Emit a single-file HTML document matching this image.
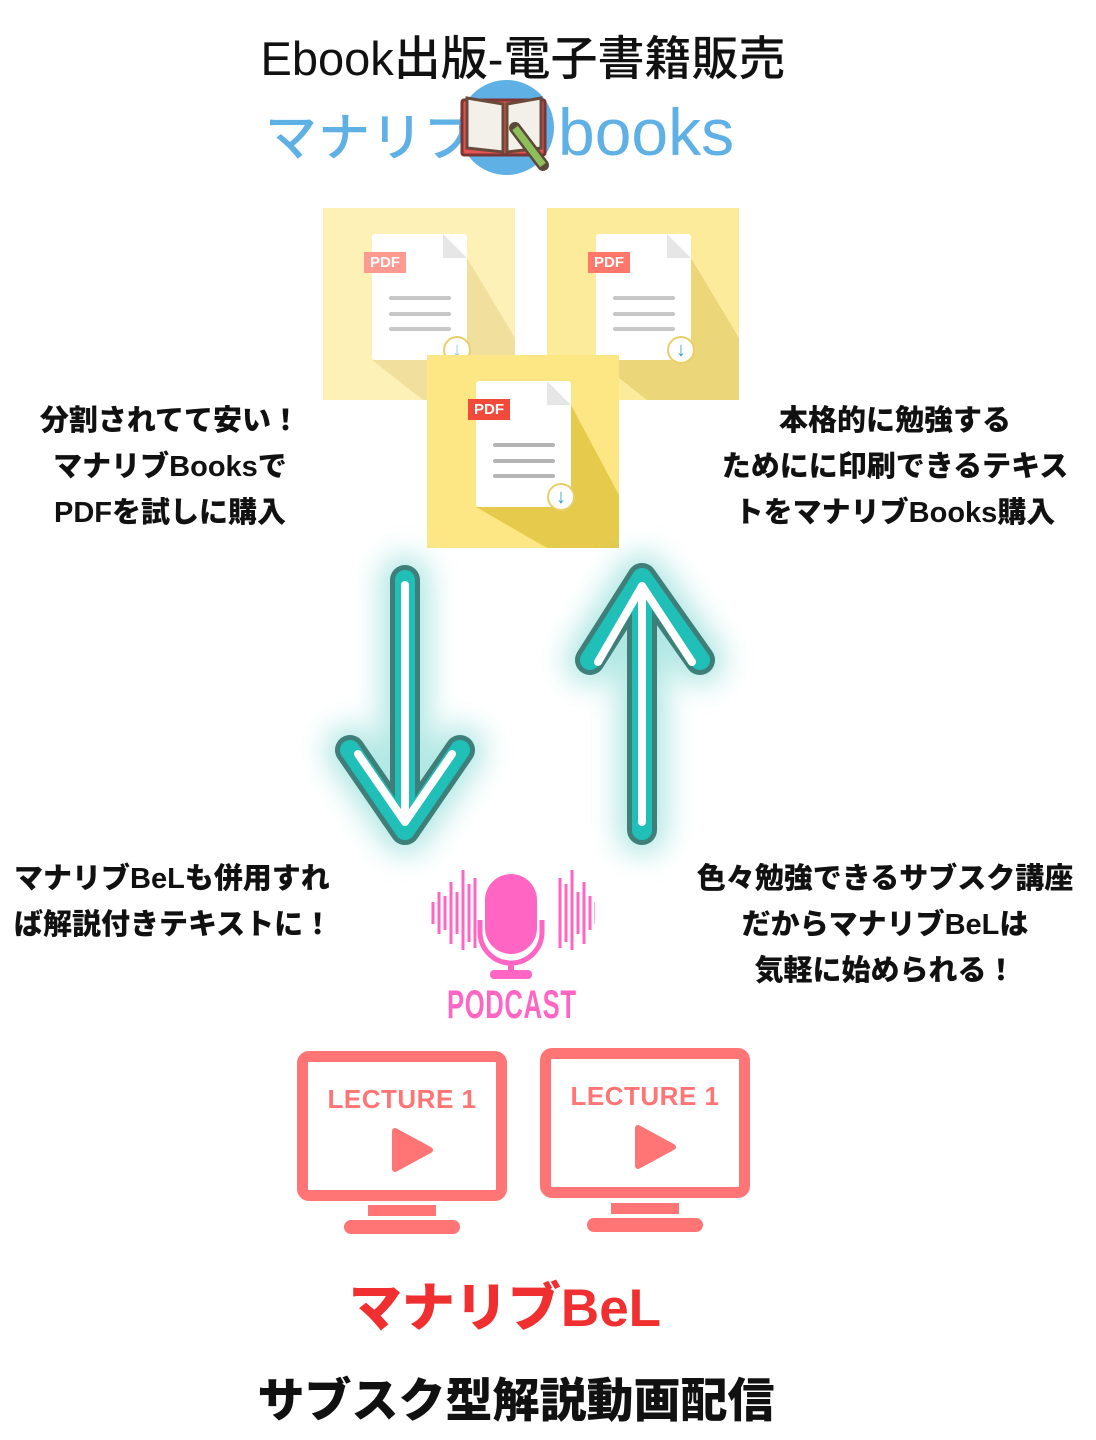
<!DOCTYPE html>
<html><head><meta charset="utf-8"><style>
body{margin:0;width:1096px;height:1440px;background:#fff;position:relative;overflow:hidden;font-family:"Liberation Sans","Noto Sans CJK JP",sans-serif}
.t{position:absolute;white-space:nowrap}
.jp{font-family:"Liberation Sans","Noto Sans CJK JP",sans-serif;font-weight:900;color:#111;font-size:29px;line-height:46px;text-align:center}
.tile{position:absolute;width:192px;height:192px;overflow:hidden}
.doc{position:absolute;left:49px;top:26px;width:95px;height:126px;background:#fff;border-radius:3px}
.fold{position:absolute;right:0;top:0;width:0;height:0;border-bottom:24px solid #e6e6e6;border-right:24px solid transparent}
.ln{position:absolute;left:17px;width:62px;height:4px;background:#c8c8c8;border-radius:2px}
.tag{position:absolute;left:41px;top:44px;width:42px;height:21px;color:#fff;font:bold 15px "Liberation Sans",sans-serif;line-height:21px;text-align:center}
.dl{position:absolute;left:120px;top:128px;width:28px;height:28px;border-radius:50%;background:#fff;border:2px solid #e8cf6a;box-sizing:border-box;color:#3a9fc0;font-size:20px;line-height:24px;text-align:center;font-weight:bold}
.shadow{position:absolute;left:0;top:0}
.mon{position:absolute;width:210px;height:150px;border:11px solid #ff7575;border-radius:12px;box-sizing:border-box}
.mon .lt{position:absolute;left:0;right:0;top:22px;text-align:center;color:#ff7575;font:bold 26px "Liberation Sans",sans-serif;letter-spacing:0.5px}
</style></head><body>
<div class="t" style="left:0;width:1046px;top:20px;text-align:center;font-size:47px;font-family:'Liberation Sans','Noto Sans CJK JP',sans-serif;color:#111;font-weight:500">Ebook出版-電子書籍販売</div>
<div class="t" style="left:265px;top:96px;font-size:52px;color:#5eb0e5;font-weight:500;letter-spacing:1px;font-family:'Noto Sans CJK JP',sans-serif">マナリブ</div>
<div style="position:absolute;left:459px;top:80px;width:95px;height:95px;border-radius:50%;background:#5eb0e5"></div>
<svg style="position:absolute;left:455px;top:90px" width="100" height="85">
<rect x="7" y="10" width="83" height="55" fill="#e55555" stroke="#7a3535" stroke-width="3" rx="2"/>
<path d="M12 8 L48 14 L48 62 L12 58Z M52 14 L86 8 L86 58 L52 62Z" fill="#f2f0e8" stroke="#6a4a3a" stroke-width="3"/>
<path d="M60 38 L88 75" stroke="#5a4a3a" stroke-width="12" stroke-linecap="round"/><path d="M60 38 L88 75" stroke="#8fbf5a" stroke-width="7"/>
</svg>
<div class="t" style="left:558px;top:94px;font-size:66px;color:#5eb0e5;font-weight:500">books</div>

<div class="tile" style="left:323px;top:208px;background:#fef1b8">
<svg class="shadow" width="192" height="192"><path d="M144 50 L192 130 L192 192 L100 192 L49 152 L144 152Z" fill="#f1df9d"/></svg>
<div class="doc"><div class="fold"></div><div class="ln" style="top:62px"></div><div class="ln" style="top:78px"></div><div class="ln" style="top:93px"></div></div>
<div class="tag" style="background:#ff9a90">PDF</div><div class="dl" style="color:#90cce0">↓</div></div>
<div class="tile" style="left:547px;top:208px;background:#fdeb9c">
<svg class="shadow" width="192" height="192"><path d="M144 50 L192 130 L192 192 L100 192 L49 152 L144 152Z" fill="#ebd77a"/></svg>
<div class="doc"><div class="fold"></div><div class="ln" style="top:62px"></div><div class="ln" style="top:78px"></div><div class="ln" style="top:93px"></div></div>
<div class="tag" style="background:#ff786b">PDF</div><div class="dl">↓</div></div>
<div class="tile" style="left:427px;top:355px;width:192px;height:193px;background:#fde784">
<svg class="shadow" width="192" height="193"><path d="M144 50 L192 140 L192 193 L120 193 L49 152 L144 152Z" fill="#e6ca4c"/></svg>
<div class="doc"><div class="fold"></div><div class="ln" style="top:62px;background:#b5b5b5"></div><div class="ln" style="top:78px;background:#b5b5b5"></div><div class="ln" style="top:93px;background:#b5b5b5"></div></div>
<div class="tag" style="background:#f24a3a">PDF</div><div class="dl">↓</div></div>

<div class="t jp" style="left:20px;width:300px;top:398px">分割されてて安い！<br>マナリブBooksで<br>PDFを試しに購入</div>
<div class="t jp" style="left:715px;width:360px;top:398px">本格的に勉強する<br>ためにに印刷できるテキス<br>トをマナリブBooks購入</div>

<svg style="position:absolute;left:250px;top:500px" width="550" height="420">
<defs><filter id="g" x="-100%" y="-100%" width="300%" height="300%"><feGaussianBlur stdDeviation="14"/></filter></defs>
<g transform="translate(50,40)" fill="none" stroke-linecap="round" stroke-linejoin="round">
<g stroke="#7fd8d2" stroke-width="50" filter="url(#g)" opacity="0.6">
<path d="M105 40 L105 290 M50 210 L105 290 L160 210"/><path d="M342 290 L342 38 M290 120 L342 38 L400 120"/></g>
<g stroke="#3f7f7a" stroke-width="30"><path d="M105 40 L105 290 M50 210 L105 290 L160 210"/><path d="M342 290 L342 38 M290 120 L342 38 L400 120"/></g>
<g stroke="#20bfb8" stroke-width="20"><path d="M105 40 L105 290 M50 210 L105 290 L160 210"/><path d="M342 290 L342 38 M290 120 L342 38 L400 120"/></g>
<g stroke="#fff" stroke-width="8"><path d="M105 45 L105 282 M58 214 L105 282 L152 214"/><path d="M342 282 L342 46 M298 122 L342 46 L392 122"/></g>
</g></svg>

<div class="t jp" style="left:14px;width:350px;top:856px;text-align:left">マナリブBeLも併用すれ<br>ば解説付きテキストに！</div>
<div class="t jp" style="left:680px;width:410px;top:856px">色々勉強できるサブスク講座<br>だからマナリブBeLは<br>気軽に始められる！</div>

<svg style="position:absolute;left:430px;top:870px" width="165" height="115">
<g stroke="#ff66c4" stroke-width="3">
<path d="M3 32v22M9 22v42M15 26v34M21 12v62M27 22v42M33 0v80M39 14v58M45 8v70M130 8v70M136 14v58M142 0v80M148 22v42M154 12v62M160 26v34M166 32v22"/></g>
<rect x="55" y="4" width="52" height="80" rx="26" fill="#ff66c4"/>
<path d="M50 50 v12 a31 31 0 0 0 62 0 v-12" fill="none" stroke="#ff66c4" stroke-width="5"/>
<rect x="78" y="92" width="6" height="12" fill="#ff66c4"/><rect x="60" y="100" width="42" height="9" rx="4" fill="#ff66c4"/>
</svg>
<div class="t" style="left:447px;top:983px;font-size:40px;font-weight:bold;color:#ff66c4;transform:scaleX(0.64);transform-origin:0 0;letter-spacing:1px">PODCAST</div>

<div class="mon" style="left:297px;top:1051px"><div class="lt">LECTURE 1</div>
<svg style="position:absolute;left:82px;top:64px" width="45" height="50"><path d="M5 5 L40 24 L5 43Z" fill="#ff7575" stroke="#ff7575" stroke-width="6" stroke-linejoin="round"/></svg></div>
<div style="position:absolute;left:368px;top:1205px;width:68px;height:11px;background:#ff7575"></div>
<div style="position:absolute;left:344px;top:1220px;width:116px;height:14px;border-radius:7px;background:#ff7575"></div>
<div class="mon" style="left:540px;top:1048px"><div class="lt">LECTURE 1</div>
<svg style="position:absolute;left:82px;top:64px" width="45" height="50"><path d="M5 5 L40 24 L5 43Z" fill="#ff7575" stroke="#ff7575" stroke-width="6" stroke-linejoin="round"/></svg></div>
<div style="position:absolute;left:611px;top:1203px;width:68px;height:11px;background:#ff7575"></div>
<div style="position:absolute;left:587px;top:1218px;width:116px;height:14px;border-radius:7px;background:#ff7575"></div>

<div class="t" style="left:0;width:1010px;top:1266px;text-align:center;font-size:53px;font-weight:900;color:#f03030;font-family:'Liberation Sans','Noto Sans CJK JP',sans-serif">マナリブBeL</div>
<div class="t" style="left:0;width:1032px;top:1362px;text-align:center;font-size:47px;font-weight:900;color:#111;font-family:'Liberation Sans','Noto Sans CJK JP',sans-serif">サブスク型解説動画配信</div>
</body></html>
